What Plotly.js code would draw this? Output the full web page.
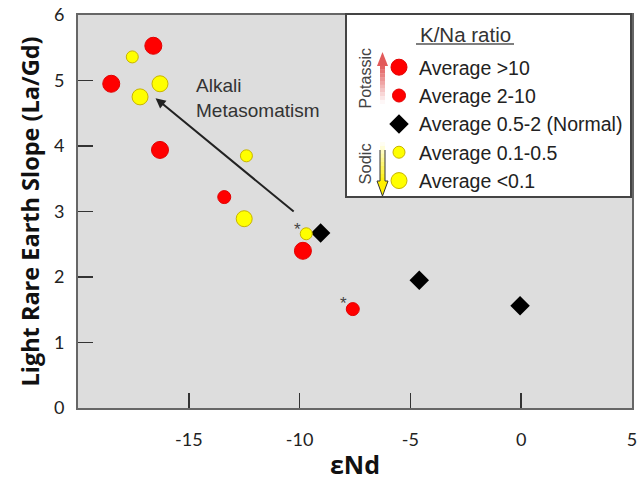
<!DOCTYPE html>
<html>
<head>
<meta charset="utf-8">
<script src="https://cdn.plot.ly/plotly-3.0.1.min.js"></script>
<style>html,body{margin:0;padding:0;background:#fff;}#chart{width:637px;height:482px;}</style>
</head>
<body>
<div id="chart"></div>
<script>
// ---- data ----
var seriesNames = ["Average >10", "Average 2-10", "Average 0.5-2 (Normal)", "Average 0.1-0.5", "Average <0.1"];
var epsNd_gt10   = [-18.5, -16.6, -16.3, -9.85];
var slope_gt10   = [4.95, 5.53, 3.94, 2.40];
var epsNd_2to10  = [-13.4, -7.6];
var slope_2to10  = [3.22, 1.51];
var epsNd_normal = [-9.05, -4.6, -0.05];
var slope_normal = [2.67, 1.95, 1.56];
var epsNd_01to05 = [-17.55, -12.4, -9.7];
var slope_01to05 = [5.36, 3.85, 2.66];
var epsNd_lt01   = [-17.2, -16.3, -12.5];
var slope_lt01   = [4.75, 4.95, 2.89];
var xTickVals = [-15, -10, -5, 0, 5];
var xTickText = ['-15', '-10', '-5', '0', '5'];
var yTickVals = [0, 1, 2, 3, 4, 5, 6];
var asteriskX = [-10.1, -8.0];
var asteriskY = [2.73, 1.6];
var arrowFrom = [-10.2, 2.98];
var arrowTo = [-16.5, 4.73];

// ---- layout helpers ----
var L = 78, R = 632, T = 15, B = 408;
function px(x){ return (x - L) / (R - L); }
function py(y){ return (B - y) / (B - T); }

var traces = [
  {x: epsNd_gt10, y: slope_gt10, name: seriesNames[0], legendgroup: 'a',
   marker: {symbol: 'circle', size: 17, color: '#ff0000', line: {color: '#e20000', width: 1}}},
  {x: epsNd_2to10, y: slope_2to10, name: seriesNames[1], legendgroup: 'b',
   marker: {symbol: 'circle', size: 13, color: '#ff0000', line: {color: '#e20000', width: 1}}},
  {x: epsNd_normal, y: slope_normal, name: seriesNames[2], legendgroup: 'c',
   marker: {symbol: 'diamond', size: 15, color: '#000000', line: {width: 0}}},
  {x: epsNd_01to05, y: slope_01to05, name: seriesNames[3], legendgroup: 'd',
   marker: {symbol: 'circle', size: 12, color: '#ffff00', line: {color: '#c8b400', width: 1}}},
  {x: epsNd_lt01, y: slope_lt01, name: seriesNames[4], legendgroup: 'e',
   marker: {symbol: 'circle', size: 16, color: '#ffff00', line: {color: '#c8b400', width: 1}}}
];
traces.forEach(function(t){ t.type = 'scatter'; t.mode = 'markers'; t.hoverinfo = 'x+y'; });

// legend decoration shapes
var shapes = [];
shapes.push({type: 'rect', xref: 'paper', yref: 'paper', layer: 'above',
  x0: px(346), x1: px(631), y0: py(197), y1: py(14),
  fillcolor: '#ffffff', line: {color: '#444444', width: 2}});
// underline of legend title
shapes.push({type: 'line', xref: 'paper', yref: 'paper', layer: 'above',
  x0: px(416), x1: px(514), y0: py(44), y1: py(44), line: {color: '#555555', width: 1.5}});

function mix(c1, c2, t){
  var r = Math.round(c1[0] + (c2[0]-c1[0])*t), g = Math.round(c1[1] + (c2[1]-c1[1])*t), b = Math.round(c1[2] + (c2[2]-c1[2])*t);
  return 'rgb(' + r + ',' + g + ',' + b + ')';
}
function poly(pts){
  return 'M' + pts.map(function(p){ return px(p[0]) + ',' + py(p[1]); }).join(' L') + ' Z';
}
// red (potassic) arrow pointing up, fading downward
var cx = 382.5, n = 10, i;
var redC = [226, 90, 90], white = [255, 255, 255];
shapes.push({type: 'path', xref: 'paper', yref: 'paper', layer: 'above',
  path: poly([[cx, 52], [cx-5.5, 66], [cx+5.5, 66]]), fillcolor: mix(redC, white, 0), line: {width: 0}});
for (i = 0; i < n; i++) {
  var ya = 66 + (104-66)*i/n, yb = 66 + (104-66)*(i+1)/n;
  shapes.push({type: 'path', xref: 'paper', yref: 'paper', layer: 'above',
    path: poly([[cx-2.5, ya-0.3], [cx+2.5, ya-0.3], [cx+2.5, yb], [cx-2.5, yb]]),
    fillcolor: mix(redC, white, (i+0.5)/n), line: {width: 0}});
}
// yellow (sodic) arrow pointing down, fading upward
var yelC = [255, 240, 0];
for (i = 0; i < n; i++) {
  var y1 = 142 + (181-142)*i/n, y2 = 142 + (181-142)*(i+1)/n;
  shapes.push({type: 'path', xref: 'paper', yref: 'paper', layer: 'above',
    path: poly([[cx-2.5, y1], [cx+2.5, y1], [cx+2.5, y2+0.3], [cx-2.5, y2+0.3]]),
    fillcolor: mix(white, yelC, (i+0.5)/n), line: {width: 0}});
}
shapes.push({type: 'path', xref: 'paper', yref: 'paper', layer: 'above',
  path: poly([[cx-5.5, 181], [cx+5.5, 181], [cx, 196]]), fillcolor: 'rgb(255,240,0)', line: {width: 0}});
shapes.push({type: 'path', xref: 'paper', yref: 'paper', layer: 'above',
  path: poly([[cx-2.5, 150], [cx-2.5, 181], [cx-5.5, 181], [cx, 196], [cx+5.5, 181], [cx+2.5, 181], [cx+2.5, 150]]).replace(' Z', ''),
  line: {color: '#333333', width: 1}});

var F = 'Liberation Sans, Arial, sans-serif';
function pa(o){ o.xref = 'paper'; o.yref = 'paper'; o.showarrow = false; o.xanchor = 'center'; o.yanchor = 'middle'; return o; }
var annotations = [
  {x: arrowTo[0], y: arrowTo[1], ax: arrowFrom[0], ay: arrowFrom[1], xref: 'x', yref: 'y', axref: 'x', ayref: 'y',
   text: '', showarrow: true, arrowhead: 2, arrowsize: 1, arrowwidth: 2, arrowcolor: '#222222'},
  {x: -14.75, y: 4.74, xref: 'x', yref: 'y', xanchor: 'left', yanchor: 'middle', align: 'left', showarrow: false,
   text: 'Alkali<br>Metasomatism', font: {family: F, size: 19, color: '#333333'}},
  {x: asteriskX[0], y: asteriskY[0], xref: 'x', yref: 'y', showarrow: false, text: '*',
   font: {family: F, size: 17, color: '#444444'}},
  {x: asteriskX[1], y: asteriskY[1], xref: 'x', yref: 'y', showarrow: false, text: '*',
   font: {family: F, size: 17, color: '#444444'}},
  pa({x: px(465), y: py(34), text: 'K/Na ratio', font: {family: F, size: 20.5, color: '#333333'}}),
  pa({x: px(364.5), y: py(79), text: 'Potassic', textangle: -90, font: {family: F, size: 16, color: '#444444'}}),
  pa({x: px(364.5), y: py(164), text: 'Sodic', textangle: -90, font: {family: F, size: 16.5, color: '#444444'}})
];

var layout = {
  width: 637, height: 482,
  margin: {l: L, r: 637 - R, t: T, b: 482 - B, pad: 0},
  paper_bgcolor: '#ffffff',
  plot_bgcolor: '#dddddd',
  showlegend: true,
  legend: {x: px(379), y: py(48), xanchor: 'left', yanchor: 'top', bgcolor: 'rgba(0,0,0,0)', borderwidth: 0,
    font: {family: F, size: 19.5, color: '#222222'}, tracegroupgap: 0, itemwidth: 30},
  xaxis: {range: [-20, 5], tickvals: xTickVals, ticktext: xTickText, ticks: 'inside', ticklen: 15, tickwidth: 1.5, tickcolor: '#333333',
    showgrid: false, zeroline: false, showline: true, linecolor: '#666666', linewidth: 2, mirror: true,
    ticklabelstandoff: 14, ticklabeloverflow: 'allow',
    tickfont: {family: 'Lato, sans-serif', size: 18, color: '#222222'},
    title: {text: '<b>εNd</b>', font: {family: 'Open Sans, sans-serif', size: 25, color: '#111111'}, standoff: 8}},
  yaxis: {range: [0, 6], tickvals: yTickVals, ticks: 'inside', ticklen: 15, tickwidth: 1.5, tickcolor: '#333333',
    showgrid: false, zeroline: false, showline: true, linecolor: '#666666', linewidth: 2, mirror: true,
    ticklabelstandoff: 8,
    tickfont: {family: 'Lato, sans-serif', size: 18, color: '#222222'},
    title: {text: '<b>Light Rare Earth Slope (La/Gd)</b>', font: {family: 'Open Sans, sans-serif', size: 23.5, color: '#111111'}, standoff: 8}},
  shapes: shapes,
  annotations: annotations
};

Plotly.newPlot('chart', traces, layout, {staticPlot: true, displayModeBar: false});
</script>
</body>
</html>
